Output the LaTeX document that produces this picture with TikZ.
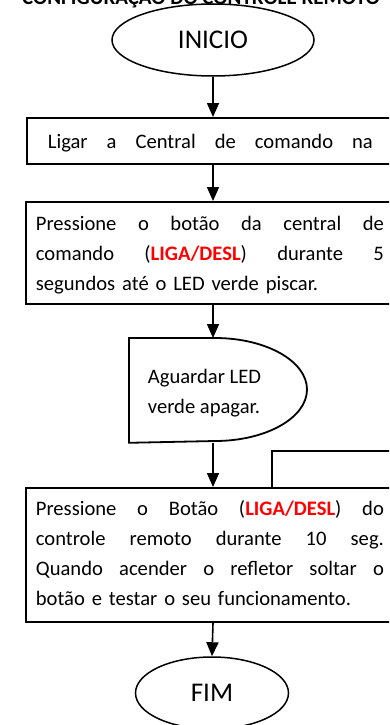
\documentclass[tikz,border=0pt]{standalone}
\usepackage{fontspec}
\setmainfont{Carlito}
\usetikzlibrary{arrows.meta,shapes.geometric,calc}
\definecolor{ligared}{RGB}{255,0,0}
\newcommand{\ligadesl}{\textbf{\textcolor{ligared}{LIGA/DESL}}}
\newcommand{\jline}[1]{\makebox[348pt][s]{#1}}
\begin{document}
\begin{tikzpicture}[x=1pt,y=-1pt,line width=1.8pt,
  bodyfont/.style={font=\fontsize{20.6}{30}\selectfont},
  box/.style={draw,rectangle,anchor=north west,inner xsep=10pt,inner ysep=0pt,text width=348pt,bodyfont},
  term/.style={draw,ellipse,line width=1.5pt,inner sep=0pt,font=\fontsize{27}{32}\selectfont},
  conn/.style={-{Triangle[width=12pt,length=14pt]},line width=1.6pt}]
\useasboundingbox (0,0) rectangle (389,725);
\clip (0,0) rectangle (389,725);
% title (cut off at top, as in the reference)
\node[anchor=base,inner sep=0pt,font=\fontsize{21}{24}\selectfont\bfseries] (title) at (201,5) {CONFIGURAÇÃO DO CONTROLE REMOTO};
% start
\node[term,minimum width=202pt,minimum height=72pt] (inicio) at (213,40) {INICIO};
% box 1
\node[draw,rectangle,anchor=north west,inner xsep=21pt,inner ysep=0pt,bodyfont] (ligar) at (26,117)
  {\rule[-15pt]{0pt}{46pt}\makebox[325pt][s]{Ligar\hfill a\hfill Central\hfill de\hfill comando\hfill na}};
% box 2
\node[box] (press) at (25,201)
  {\rule{0pt}{29pt}\jline{Pressione\hfill o\hfill botão\hfill da\hfill central\hfill de}\\
   \jline{comando\hfill (\ligadesl)\hfill durante\hfill 5}\\
   segundos até o LED verde piscar.\rule[-13pt]{0pt}{0pt}};
% delay
\node[rectangle,anchor=north west,minimum width=178pt,minimum height=103pt,inner sep=0pt] (wait) at (129,338) {};
\draw ($(wait.north west)+(86,0)$) arc[start angle=-90,end angle=90,x radius=92,y radius=51.5]
  -- (wait.south west) -- (wait.north west) -- cycle;
\node[anchor=north west,inner sep=0pt,align=left,bodyfont] (waittxt) at (147,368)
  {\rule{0pt}{15pt}Aguardar LED\\verde apagar.};
% box 3
\node[box] (remote) at (25,487)
  {\rule{0pt}{28pt}\jline{Pressione\hfill o\hfill Botão\hfill (\ligadesl)\hfill do}\\
   \jline{controle\hfill remoto\hfill durante\hfill 10\hfill seg.}\\
   \jline{Quando\hfill acender\hfill o\hfill refletor\hfill soltar\hfill o}\\
   botão e testar o seu funcionamento.\rule[-16pt]{0pt}{0pt}};
% end
\node[term,minimum width=153pt,minimum height=72pt] (fim) at (212,693) {FIM};
% loop line
\coordinate (loopend) at (400,451);
\draw ($(remote.north west)+(247,0)$) |- (loopend);
% connectors
\draw[conn] (inicio.south) -- (inicio.south |- ligar.north);
\draw[conn] (inicio.south |- ligar.south) -- (inicio.south |- press.north);
\draw[conn] (inicio.south |- press.south) -- (inicio.south |- wait.north);
\draw[conn] (inicio.south |- wait.south) -- (inicio.south |- remote.north);
\draw[conn] (inicio.south |- remote.south) -- (fim.north);
\end{tikzpicture}
\end{document}
